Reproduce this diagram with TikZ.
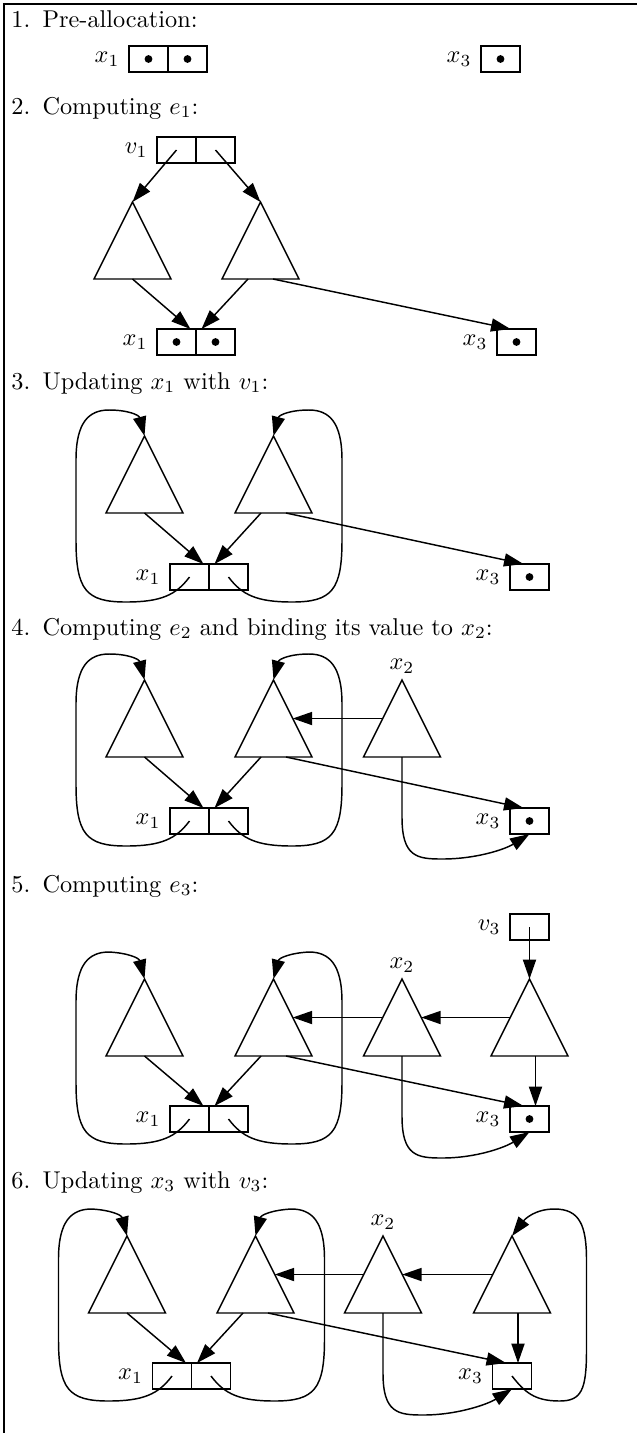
\documentclass[tikz,border=0pt]{standalone}
\usetikzlibrary{arrows.meta,calc}
\tikzset{
  conn/.style={line width=0.6pt, -{Triangle[length=8pt,width=5.4pt]}},
  cell/.style={draw, line width=0.6pt, minimum width=16.05pt, minimum height=10.7pt, inner sep=0pt, outer sep=0pt},
  lbl/.style={inner sep=0pt, anchor=east},
  ttl/.style={inner sep=0pt, anchor=base west},
  dot/.style={circle, fill, inner sep=0pt, minimum size=3.2pt},
  trishape/.style={line width=0.6pt, line join=miter},
  frameline/.style={line width=0.9pt},
}
\newcommand\Tri[3]{%
  \coordinate (#1) at (#2,#3);
  \coordinate (#1b) at (#2,#3+77);
  \coordinate (#1bl) at (#2-12.5,#3+77);
  \coordinate (#1br) at (#2+12.5,#3+77);
  \coordinate (#1l) at (#2-19.25,#3+38.5);
  \coordinate (#1r) at (#2+19.25,#3+38.5);
  \draw[trishape] (#1) -- (#2-38.5,#3+77) -- (#2+38.5,#3+77) -- cycle;
}
\newcommand\myloop[3]{%
  \draw[conn] (#1.center)
    .. controls ($(#1.center)+(#3*13.5,18)$) and ($(#1.center)+(#3*28.5,25)$) .. ($(#1.center)+(#3*63.5,25)$)
    .. controls ($(#1.center)+(#3*103.5,25)$) and ($(#1.center)+(#3*113.5,13)$) .. ($(#1.center)+(#3*113.5,-37)$)
    -- ($(#1.center)+(#3*113.5,-117)$)
    .. controls ($(#1.center)+(#3*113.5,-155)$) and ($(#1.center)+(#3*100.5,-167)$) .. ($(#1.center)+(#3*80.5,-167)$)
    .. controls ($(#2)+(#3*16.5,-26)$) and ($(#2)+(#3*5.5,-21)$) .. (#2);
}
\newcommand\xcurve[2]{%
  \draw[conn] (#1) -- ($(#1)+(0,60)$)
    .. controls ($(#1)+(0,100)$) and ($(#1)+(15,102)$) .. ($(#1)+(40,102)$)
    .. controls ($(#1)+(75,102)$) and ($(#2.south)+(-24,15)$) .. (#2.south);
}
\begin{document}
\begin{tikzpicture}[x=0.4115pt,y=-0.4115pt]
\useasboundingbox (0,0) rectangle (637,1433);
\draw[frameline] (3,4) -- (637,4);
\draw[frameline] (4,3.5) -- (4,1433);

% ---------- Panel 1
\node[ttl] (t1) at (11,27) {1.\hspace{5pt}Pre-allocation:};
\node[cell] (p1a) at (148.5,59) {};
\node[cell] (p1b) at (187.5,59) {};
\node[dot] (p1da) at (p1a) {};
\node[dot] (p1db) at (p1b) {};
\node[lbl] (p1lx1) at (120,59) {$x_1$};
\node[cell] (p1c) at (500.5,59) {};
\node[dot] (p1dc) at (p1c) {};
\node[lbl] (p1lx3) at (472,59) {$x_3$};

% ---------- Panel 2
\node[ttl] (t2) at (11,114) {2.\hspace{5pt}Computing $e_1$:};
\node[cell] (p2va) at (176.5,150) {};
\node[cell] (p2vb) at (215.5,150) {};
\node[lbl] (p2lv) at (148,150) {$v_1$};
\Tri{p2L}{132.5}{202}
\Tri{p2R}{260.5}{202}
\node[cell] (p2xa) at (176.5,342) {};
\node[cell] (p2xb) at (215.5,342) {};
\node[dot] (p2da) at (p2xa) {};
\node[dot] (p2db) at (p2xb) {};
\node[lbl] (p2lx1) at (148,342) {$x_1$};
\node[cell] (p2x3) at (516.5,342) {};
\node[dot] (p2dc) at (p2x3) {};
\node[lbl] (p2lx3) at (488,342) {$x_3$};
\draw[conn] (p2va.center) -- (p2L);
\draw[conn] (p2vb.center) -- (p2R);
\draw[conn] (p2Lb) -- ($(p2xa.north east)+(-5.5,0)$);
\draw[conn] (p2Rbl) -- ($(p2xb.north west)+(5.5,0)$);
\draw[conn] (p2Rbr) -- ($(p2x3.north)+(-6,0)$);

% ---------- Panel 3
\node[ttl] (t3) at (11,389) {3.\hspace{5pt}Updating $x_1$ with $v_1$:};
\Tri{p3L}{144.5}{436}
\Tri{p3R}{273.5}{436}
\node[cell] (p3xa) at (189.5,577) {};
\node[cell] (p3xb) at (228.5,577) {};
\node[lbl] (p3lx1) at (161,577) {$x_1$};
\node[cell] (p3x3) at (529.5,577) {};
\node[dot] (p3dc) at (p3x3) {};
\node[lbl] (p3lx3) at (501,577) {$x_3$};
\draw[conn] (p3Lb) -- ($(p3xa.north east)+(-5.5,0)$);
\draw[conn] (p3Rbl) -- ($(p3xb.north west)+(5.5,0)$);
\draw[conn] (p3Rbr) -- ($(p3x3.north)+(-6,0)$);
\myloop{p3xa}{p3L}{-1}
\myloop{p3xb}{p3R}{1}

% ---------- Panel 4
\node[ttl] (t4) at (11,635) {4.\hspace{5pt}Computing $e_2$ and binding its value to $x_2$:};
\Tri{p4L}{144.5}{680}
\Tri{p4R}{273.5}{680}
\Tri{p4X}{402}{680}
\node[inner sep=0pt, anchor=south] (p4lx2) at ($(p4X)+(0,-6)$) {$x_2$};
\node[cell] (p4xa) at (189.5,821) {};
\node[cell] (p4xb) at (228.5,821) {};
\node[lbl] (p4lx1) at (161,821) {$x_1$};
\node[cell] (p4x3) at (529.5,821) {};
\node[dot] (p4dc) at (p4x3) {};
\node[lbl] (p4lx3) at (501,821) {$x_3$};
\draw[conn] (p4Lb) -- ($(p4xa.north east)+(-5.5,0)$);
\draw[conn] (p4Rbl) -- ($(p4xb.north west)+(5.5,0)$);
\draw[conn] (p4Rbr) -- ($(p4x3.north)+(-6,0)$);
\draw[conn] (p4Xl) -- (p4Rr);
\xcurve{p4Xb}{p4x3}
\myloop{p4xa}{p4L}{-1}
\myloop{p4xb}{p4R}{1}

% ---------- Panel 5
\node[ttl] (t5) at (11,892) {5.\hspace{5pt}Computing $e_3$:};
\node[cell] (p5v) at (529.5,927) {};
\node[lbl] (p5lv) at (501,927) {$v_3$};
\Tri{p5L}{144.5}{979}
\Tri{p5R}{273.5}{979}
\Tri{p5X}{402}{979}
\Tri{p5T}{529.5}{979}
\node[inner sep=0pt, anchor=south] (p5lx2) at ($(p5X)+(0,-6)$) {$x_2$};
\node[cell] (p5xa) at (189.5,1119) {};
\node[cell] (p5xb) at (228.5,1119) {};
\node[lbl] (p5lx1) at (161,1119) {$x_1$};
\node[cell] (p5x3) at (529.5,1119) {};
\node[dot] (p5dc) at (p5x3) {};
\node[lbl] (p5lx3) at (501,1119) {$x_3$};
\draw[conn] (p5v.center) -- (p5T);
\draw[conn] (p5Lb) -- ($(p5xa.north east)+(-5.5,0)$);
\draw[conn] (p5Rbl) -- ($(p5xb.north west)+(5.5,0)$);
\draw[conn] (p5Rbr) -- ($(p5x3.north)+(-6,0)$);
\draw[conn] ($(p5Tb)+(6,0)$) -- ($(p5x3.north)+(6,0)$);
\draw[conn] (p5Tl) -- (p5Xr);
\draw[conn] (p5Xl) -- (p5Rr);
\xcurve{p5Xb}{p5x3}
\myloop{p5xa}{p5L}{-1}
\myloop{p5xb}{p5R}{1}

% ---------- Panel 6
\node[ttl] (t6) at (11,1188) {6.\hspace{5pt}Updating $x_3$ with $v_3$:};
\Tri{p6L}{127}{1236}
\Tri{p6R}{255.5}{1236}
\Tri{p6X}{383}{1236}
\Tri{p6T}{512}{1236}
\node[inner sep=0pt, anchor=south] (p6lx2) at ($(p6X)+(0,-6)$) {$x_2$};
\node[cell] (p6xa) at (172,1376) {};
\node[cell] (p6xb) at (211,1376) {};
\node[lbl] (p6lx1) at (143.5,1376) {$x_1$};
\node[cell] (p6x3) at (512,1376) {};
\node[lbl] (p6lx3) at (483.5,1376) {$x_3$};
\draw[conn] (p6Lb) -- ($(p6xa.north east)+(-5.5,0)$);
\draw[conn] (p6Rbl) -- ($(p6xb.north west)+(5.5,0)$);
\draw[conn] (p6Rbr) -- ($(p6x3.north)+(-6,0)$);
\draw[conn] ($(p6Tb)+(6,0)$) -- ($(p6x3.north)+(6,0)$);
\draw[conn] (p6Tl) -- (p6Xr);
\draw[conn] (p6Xl) -- (p6Rr);
\xcurve{p6Xb}{p6x3}
\myloop{p6xa}{p6L}{-1}
\myloop{p6xb}{p6R}{1}
\draw[conn] (p6x3.center)
  .. controls ($(p6x3.center)+(12.5,16)$) and ($(p6x3.center)+(22.5,25)$) .. ($(p6x3.center)+(47.5,25)$)
  .. controls ($(p6x3.center)+(69.5,25)$) and ($(p6x3.center)+(74.5,14)$) .. ($(p6x3.center)+(74.5,-26)$)
  -- ($(p6x3.center)+(74.5,-116)$)
  .. controls ($(p6x3.center)+(74.5,-151)$) and ($(p6x3.center)+(67.5,-167)$) .. ($(p6x3.center)+(42.5,-167)$)
  .. controls ($(p6T)+(23,-27)$) and ($(p6T)+(13,-17)$) .. (p6T);
\end{tikzpicture}
\end{document}
